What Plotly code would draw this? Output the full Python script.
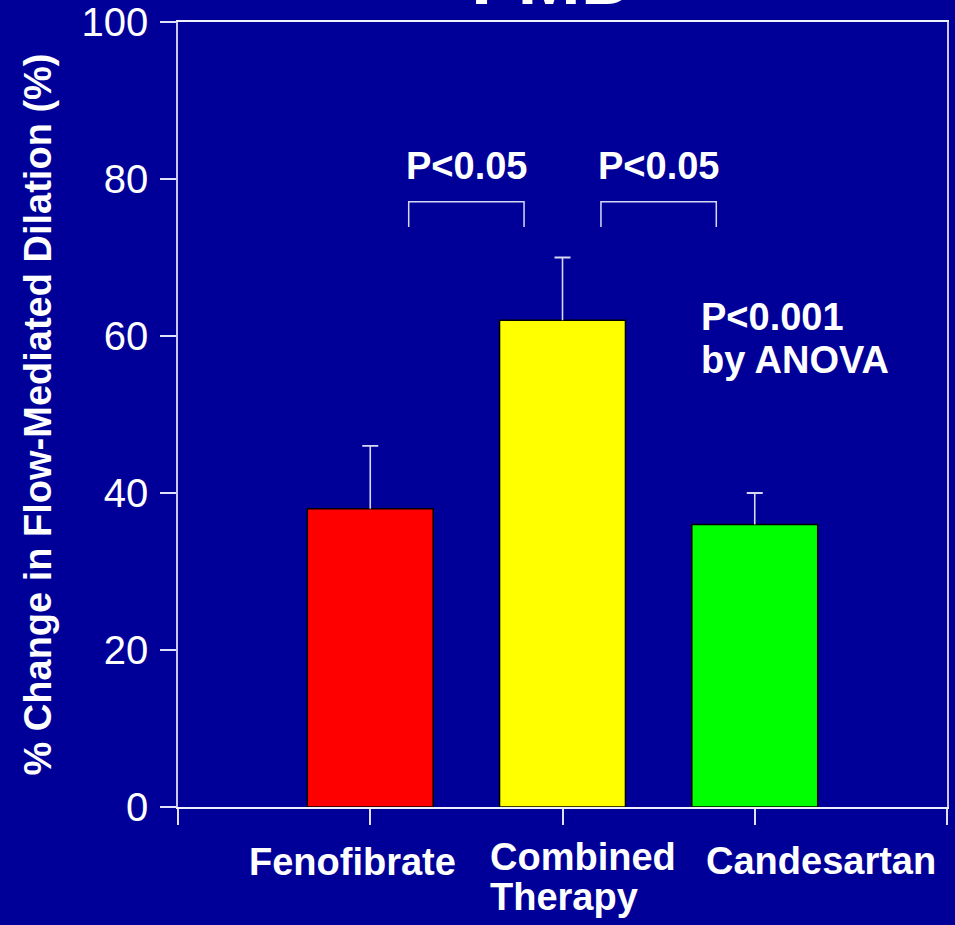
import plotly.graph_objects as go

# datos
grupos = ["Fenofibrate", "Combined Therapy", "Candesartan"]
pos_x = [1, 2, 3]
fmd_cambio = [38, 62, 36]
fmd_error = [8, 8, 4]
colores = ["#FF0000", "#FFFF00", "#00FF00"]
y_ticks = [0, 20, 40, 60, 80, 100]

fondo = "#000099"
fuente = "Liberation Sans, Arial, sans-serif"
color_err = "#D8D8F4"

fig = go.Figure()

# barras con el tramo vertical del error (sin remate)
fig.add_trace(go.Bar(
    x=pos_x,
    y=fmd_cambio,
    width=0.655,
    marker=dict(color=colores, line=dict(color="#000000", width=1.5)),
    error_y=dict(type="data", array=fmd_error, arrayminus=[0, 0, 0], symmetric=False,
                 color=color_err, thickness=1.6, width=0),
    showlegend=False,
))

# remate superior del error
fig.add_trace(go.Scatter(
    x=pos_x,
    y=[v + e for v, e in zip(fmd_cambio, fmd_error)],
    mode="markers",
    marker=dict(size=1, color="rgba(0,0,0,0)"),
    error_y=dict(type="data", array=[0, 0, 0], symmetric=True,
                 color=color_err, thickness=1.8, width=8),
    showlegend=False, hoverinfo="skip",
))

# corchetes de comparacion
for x0, x1 in [(1.2, 1.8), (2.2, 2.8)]:
    fig.add_shape(type="path", xref="x", yref="y",
                  path=f"M {x0},73.9 L {x0},77.1 L {x1},77.1 L {x1},73.9",
                  line=dict(color=color_err, width=1.5))

txt = dict(color="white", size=38, family=fuente)
anot = [
    dict(x=1.505, y=81.7, text="<b>P<0.05</b>"),
    dict(x=2.5, y=81.7, text="<b>P<0.05</b>"),
    dict(x=2.71, y=62.4, text="<b>P<0.001</b>", xanchor="left"),
    dict(x=2.71, y=57.0, text="<b>by ANOVA</b>", xanchor="left"),
]
for a in anot:
    fig.add_annotation(xref="x", yref="y", showarrow=False, font=txt,
                       xanchor=a.get("xanchor", "center"), yanchor="middle",
                       x=a["x"], y=a["y"], text=a["text"])

# etiquetas de categorias (debajo del eje)
etiquetas = [
    (0.91, -0.0707, "Fenofibrate", "center"),
    (1.613, -0.0637, "Combined", "left"),
    (1.613, -0.1146, "Therapy", "left"),
    (3.345, -0.0688, "Candesartan", "center"),
]
for x, y, t, anc in etiquetas:
    fig.add_annotation(xref="x", yref="paper", x=x, y=y, text=f"<b>{t}</b>",
                       showarrow=False, font=txt, xanchor=anc, yanchor="middle")

# titulo cortado arriba
fig.add_annotation(xref="paper", yref="paper", x=0.488, y=1.0, text="<b>FMD</b>",
                   showarrow=False, font=dict(color="white", size=76, family=fuente),
                   xanchor="center", yanchor="bottom")

fig.update_layout(
    width=955, height=925,
    paper_bgcolor=fondo, plot_bgcolor=fondo,
    margin=dict(l=178, r=8, t=22, b=118),
    font=dict(family=fuente, color="white"),
    xaxis=dict(range=[0, 4], tickvals=[0, 1, 2, 3, 4], showticklabels=False,
               ticks="outside", ticklen=16, tickcolor="#E0E0F8", tickwidth=1.5,
               showline=True, linecolor="#F0F0FF", linewidth=1.5, mirror=True,
               showgrid=False, zeroline=False, automargin=False),
    yaxis=dict(range=[0, 100], tickvals=y_ticks, ticks="outside", ticklen=16,
               tickcolor="#E0E0F8", tickwidth=1.5, ticklabelstandoff=4,
               tickfont=dict(size=40, color="white", family=fuente),
               showline=True, linecolor="#C8C8F0", linewidth=1.5, mirror=True,
               showgrid=False, zeroline=False, automargin=False,
               title=dict(text="<b>% Change in Flow-Mediated Dilation (%)</b>",
                          font=dict(size=38, color="white", family=fuente), standoff=18)),
)

fig.write_html("out.html", config={"displayModeBar": False},
               post_script="document.body.style.margin='0';")
